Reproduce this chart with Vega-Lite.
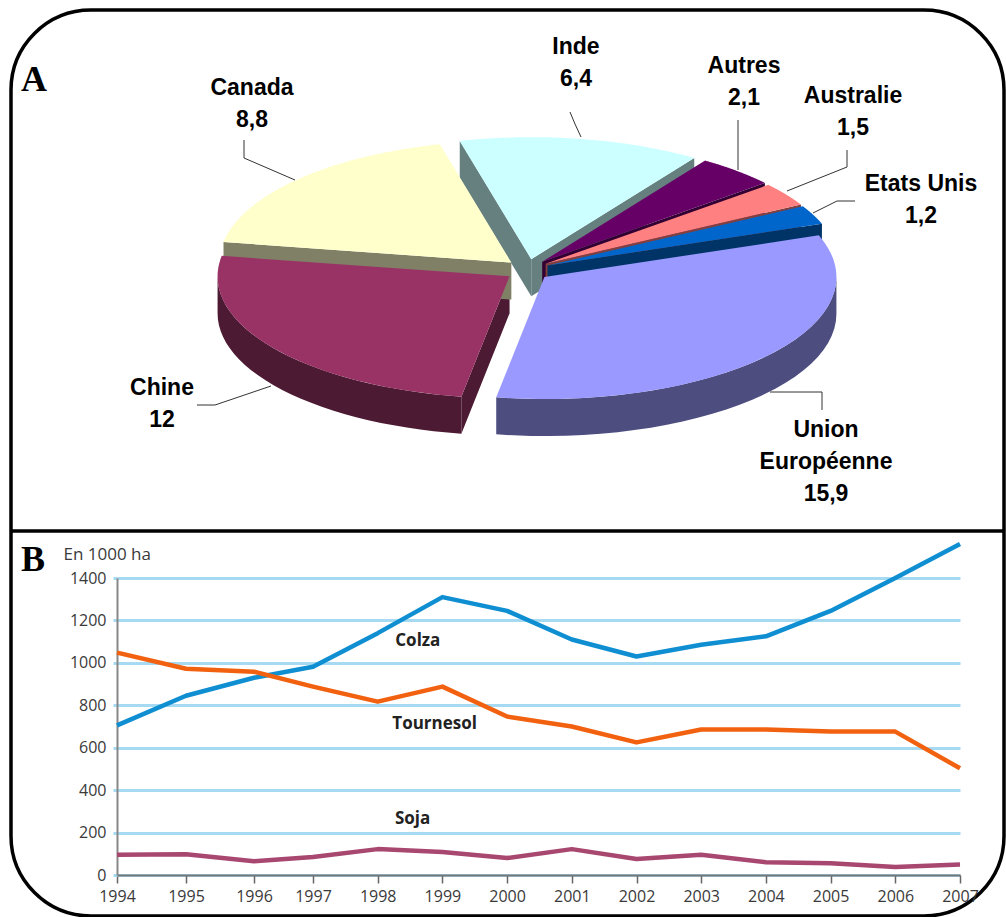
{
  "$schema": "https://vega.github.io/schema/vega-lite/v6.json",
  "autosize": "none",
  "width": 993,
  "height": 906,
  "padding": {"left": 11, "top": 10, "right": 2, "bottom": 1},
  "background": "#ffffff",
  "view": {"stroke": "#000000", "strokeWidth": 3.5, "cornerRadius": 80, "fill": "#ffffff"},
  "datasets": {
    "production": [
      {"name": "Union Européenne", "value": 15.9},
      {"name": "Chine", "value": 12},
      {"name": "Canada", "value": 8.8},
      {"name": "Inde", "value": 6.4},
      {"name": "Autres", "value": 2.1},
      {"name": "Australie", "value": 1.5},
      {"name": "Etats Unis", "value": 1.2}
    ],
    "surfaces": [
      {"crop": "Colza", "year": 1994, "ha": 705},
      {"crop": "Colza", "year": 1995, "ha": 845},
      {"crop": "Colza", "year": 1996, "ha": 930},
      {"crop": "Colza", "year": 1997, "ha": 982},
      {"crop": "Colza", "year": 1998, "ha": 1140},
      {"crop": "Colza", "year": 1999, "ha": 1310},
      {"crop": "Colza", "year": 2000, "ha": 1245},
      {"crop": "Colza", "year": 2001, "ha": 1110},
      {"crop": "Colza", "year": 2002, "ha": 1030},
      {"crop": "Colza", "year": 2003, "ha": 1085},
      {"crop": "Colza", "year": 2004, "ha": 1125},
      {"crop": "Colza", "year": 2005, "ha": 1245},
      {"crop": "Colza", "year": 2006, "ha": 1400},
      {"crop": "Colza", "year": 2007, "ha": 1560},
      {"crop": "Tournesol", "year": 1994, "ha": 1048},
      {"crop": "Tournesol", "year": 1995, "ha": 972},
      {"crop": "Tournesol", "year": 1996, "ha": 958},
      {"crop": "Tournesol", "year": 1997, "ha": 888},
      {"crop": "Tournesol", "year": 1998, "ha": 817},
      {"crop": "Tournesol", "year": 1999, "ha": 888},
      {"crop": "Tournesol", "year": 2000, "ha": 747},
      {"crop": "Tournesol", "year": 2001, "ha": 700},
      {"crop": "Tournesol", "year": 2002, "ha": 625},
      {"crop": "Tournesol", "year": 2003, "ha": 686},
      {"crop": "Tournesol", "year": 2004, "ha": 686},
      {"crop": "Tournesol", "year": 2005, "ha": 676},
      {"crop": "Tournesol", "year": 2006, "ha": 676},
      {"crop": "Tournesol", "year": 2007, "ha": 503},
      {"crop": "Soja", "year": 1994, "ha": 95},
      {"crop": "Soja", "year": 1995, "ha": 98},
      {"crop": "Soja", "year": 1996, "ha": 65},
      {"crop": "Soja", "year": 1997, "ha": 85},
      {"crop": "Soja", "year": 1998, "ha": 122},
      {"crop": "Soja", "year": 1999, "ha": 108},
      {"crop": "Soja", "year": 2000, "ha": 80},
      {"crop": "Soja", "year": 2001, "ha": 122},
      {"crop": "Soja", "year": 2002, "ha": 75},
      {"crop": "Soja", "year": 2003, "ha": 95},
      {"crop": "Soja", "year": 2004, "ha": 60},
      {"crop": "Soja", "year": 2005, "ha": 55},
      {"crop": "Soja", "year": 2006, "ha": 38},
      {"crop": "Soja", "year": 2007, "ha": 50}
    ],
    "cropNames": [
      {"crop": "Colza", "year": 1998.62, "ha": 1104},
      {"crop": "Tournesol", "year": 1998.88, "ha": 714},
      {"crop": "Soja", "year": 1998.54, "ha": 263}
    ]
  },
  "layer": [
    {
      "data": {"values": [{"part": "divider"}]},
      "encoding": {
        "x": {"datum": 11, "type": "quantitative", "scale": {"domain": [11, 1004]}, "axis": null},
        "y": {"datum": 531, "type": "quantitative", "scale": {"domain": [10, 916], "reverse": true}, "axis": null}
      },
      "layer": [
        {
          "mark": {"type": "rule", "stroke": "#000000", "strokeWidth": 3.5},
          "encoding": {"x2": {"datum": 1004}}
        },
        {
          "mark": {"type": "text", "font": "Liberation Serif", "fontWeight": "bold", "fontSize": 36, "align": "left", "baseline": "middle", "color": "#000000", "text": "A"},
          "encoding": {"x": {"datum": 21, "type": "quantitative"}, "y": {"datum": 80, "type": "quantitative"}}
        },
        {
          "mark": {"type": "text", "font": "Liberation Serif", "fontWeight": "bold", "fontSize": 36, "align": "left", "baseline": "middle", "color": "#000000", "text": "B"},
          "encoding": {"x": {"datum": 21, "type": "quantitative"}, "y": {"datum": 560, "type": "quantitative"}}
        }
      ]
    },
    {
      "data": {"name": "production"},
      "transform": [
        {"window": [{"op": "sum", "field": "value", "as": "cum"}], "frame": [null, 0]},
        {"joinaggregate": [{"op": "sum", "field": "value", "as": "total"}]},
        {"calculate": "(70 + 360 * (datum.cum - datum.value) / datum.total) * PI / 180", "as": "a0"},
        {"calculate": "(70 + 360 * datum.cum / datum.total) * PI / 180", "as": "a1"},
        {"calculate": "(datum.a0 + datum.a1) / 2", "as": "mid"},
        {"calculate": "527.5 + 22 * sin(datum.mid)", "as": "ox"},
        {"calculate": "270 - 11 * cos(datum.mid)", "as": "oy"},
        {"calculate": "[0,1,2,3,4,5,6,7,8,9,10,11,12,13,14,15,16,17,18,19,20,21,22,23,24,25,26,27,28,29,30,31,32,33,34,35,36,37,38,39,40,41,42,43,44,45,46,47,48,49,50,51,52,53,54,55,56,57,58,59]", "as": "steps"},
        {"flatten": ["steps"], "as": ["k"]}
      ],
      "encoding": {
        "x": {"field": "px", "type": "quantitative", "scale": {"domain": [11, 1004]}, "axis": null},
        "y": {"field": "py", "type": "quantitative", "scale": {"domain": [10, 916], "reverse": true}, "axis": null},
        "order": {"field": "k", "type": "quantitative"}
      },
      "layer": [
        {
          "description": "Radial side walls of the slices, only those facing the viewer",
          "transform": [
            {"filter": "datum.k < 8"},
            {"calculate": "datum.k < 4 ? 0 : 1", "as": "side"},
            {"calculate": "datum.k % 4", "as": "corner"},
            {"filter": "datum.side == 0 ? sin(datum.a0) < 0 : sin(datum.a1) > 0"},
            {"calculate": "datum.side == 0 ? datum.a0 : datum.a1", "as": "edge"},
            {"calculate": "(datum.corner == 0 || datum.corner == 3) ? datum.ox : datum.ox + 292 * sin(datum.edge)", "as": "px"},
            {"calculate": "((datum.corner == 0 || datum.corner == 3) ? datum.oy : datum.oy - 122 * cos(datum.edge)) + (datum.corner < 2 ? 0 : 37)", "as": "py"}
          ],
          "mark": {"type": "line", "filled": true, "strokeWidth": 0},
          "encoding": {
            "detail": {"field": "side"},
            "color": {"field": "name", "type": "nominal", "legend": null,
              "scale": {"domain": ["Union Européenne", "Chine", "Canada", "Inde", "Autres", "Australie", "Etats Unis"],
                        "range": ["#4d4d80", "#4d1a33", "#808066", "#668080", "#330033", "#804040", "#003366"]}}
          }
        },
        {
          "description": "Outer rim on the front half of the pie",
          "transform": [
            {"filter": "max(datum.a0, PI / 2) < min(datum.a1, 3 * PI / 2)"},
            {"calculate": "max(datum.a0, PI / 2)", "as": "lo"},
            {"calculate": "min(datum.a1, 3 * PI / 2)", "as": "hi"},
            {"calculate": "datum.lo + (datum.k < 30 ? datum.k : 59 - datum.k) / 29 * (datum.hi - datum.lo)", "as": "a"},
            {"calculate": "datum.ox + 292 * sin(datum.a)", "as": "px"},
            {"calculate": "datum.oy - 122 * cos(datum.a) + (datum.k < 30 ? 0 : 37)", "as": "py"}
          ],
          "mark": {"type": "line", "filled": true, "strokeWidth": 0},
          "encoding": {
            "color": {"field": "name", "type": "nominal", "legend": null,
              "scale": {"domain": ["Union Européenne", "Chine", "Canada", "Inde", "Autres", "Australie", "Etats Unis"],
                        "range": ["#4d4d80", "#4d1a33", "#808066", "#668080", "#330033", "#804040", "#003366"]}}
          }
        },
        {
          "description": "Top face of each slice, its angle taken from the value",
          "transform": [
            {"calculate": "datum.a0 + (datum.k - 1) / 58 * (datum.a1 - datum.a0)", "as": "a"},
            {"calculate": "datum.k == 0 ? datum.ox : datum.ox + 292 * sin(datum.a)", "as": "px"},
            {"calculate": "datum.k == 0 ? datum.oy : datum.oy - 122 * cos(datum.a)", "as": "py"}
          ],
          "mark": {"type": "line", "filled": true, "strokeWidth": 0},
          "encoding": {
            "color": {"field": "name", "type": "nominal", "legend": null,
              "scale": {"domain": ["Union Européenne", "Chine", "Canada", "Inde", "Autres", "Australie", "Etats Unis"],
                        "range": ["#9999ff", "#993366", "#ffffcc", "#ccffff", "#660066", "#ff8080", "#0066cc"]}}
          }
        },
        {
          "description": "Leader lines between slices and their labels",
          "transform": [
            {"filter": "datum.k < 3"},
            {"calculate": "{'Inde':[570,575,581],'Autres':[738,738,738],'Australie':[847,847,787],'Etats Unis':[855,837,813],'Union Européenne':[822,822,770],'Chine':[197,215,271],'Canada':[244,244,295]}[datum.name][datum.k]", "as": "px"},
            {"calculate": "{'Inde':[112,124,137],'Autres':[120,145,170],'Australie':[150,167,191],'Etats Unis':[201,201,213],'Union Européenne':[410,392,392],'Chine':[405,405,386],'Canada':[140,158,180]}[datum.name][datum.k]", "as": "py"}
          ],
          "mark": {"type": "line", "stroke": "#333333", "strokeWidth": 1},
          "encoding": {"detail": {"field": "name"}}
        },
        {
          "description": "Slice names with their values; py is the first line of each caption",
          "transform": [
            {"filter": "datum.k == 0"},
            {"calculate": "{'Inde':576,'Autres':744,'Australie':853,'Etats Unis':921,'Union Européenne':826,'Chine':162,'Canada':252}[datum.name]", "as": "px"},
            {"calculate": "{'Inde':47,'Autres':66,'Australie':96,'Etats Unis':184,'Union Européenne':430,'Chine':388,'Canada':88}[datum.name]", "as": "py"},
            {"calculate": "replace(datum.name, 'Union ', 'Union\\n') + '\\n' + replace('' + datum.value, '.', ',')", "as": "caption"}
          ],
          "mark": {"type": "text", "font": "Liberation Sans", "fontWeight": "bold", "fontSize": 23, "lineHeight": 32, "lineBreak": "\n", "align": "center", "baseline": "middle", "color": "#000000"},
          "encoding": {"text": {"field": "caption"}}
        }
      ],
      "resolve": {"scale": {"color": "independent"}}
    },
    {
      "encoding": {
        "x": {
          "field": "year", "type": "quantitative",
          "scale": {"domain": [1994, 1995, 1996, 1997, 2007], "range": [106, 175, 243, 302, 949], "zero": false},
          "axis": {
            "orient": "bottom", "offset": -41, "values": [1994, 1995, 1996, 1997, 1998, 1999, 2000, 2001, 2002, 2003, 2004, 2005, 2006, 2007],
            "format": "d", "title": null, "grid": false,
            "domainColor": "#777777", "domainWidth": 2, "tickColor": "#666666", "tickWidth": 1.5, "tickSize": 8,
            "labelFont": "Open Sans", "labelFontSize": 16, "labelColor": "#3a3a3a", "labelPadding": 5, "labelOverlap": false, "labelBound": false, "labelFlush": false
          }
        },
        "y": {
          "field": "ha", "type": "quantitative",
          "scale": {"domain": [0, 1400], "range": [865, 568]},
          "axis": {
            "orient": "left", "offset": -106, "values": [0, 200, 400, 600, 800, 1000, 1200, 1400],
            "format": "d",
            "title": "En 1000 ha", "titleAngle": 0, "titleX": -54, "titleY": 544, "titleAlign": "left", "titleBaseline": "middle",
            "titleFont": "Open Sans", "titleFontWeight": "normal", "titleFontSize": 17, "titleColor": "#3a3a3a",
            "grid": true, "gridColor": "#a6daf2", "gridWidth": 3,
            "domainColor": "#888888", "domainWidth": 2, "tickColor": "#a6daf2", "tickWidth": 3, "tickSize": 4,
            "labelFont": "Open Sans", "labelFontSize": 16, "labelColor": "#3a3a3a", "labelPadding": 7, "labelOverlap": false, "labelBound": false
          }
        }
      },
      "layer": [
        {
          "data": {"name": "surfaces"},
          "mark": {"type": "line", "strokeWidth": 4.5, "strokeJoin": "round"},
          "encoding": {
            "color": {"field": "crop", "type": "nominal", "legend": null,
              "scale": {"domain": ["Colza", "Tournesol", "Soja"], "range": ["#0f8fd2", "#f2610f", "#a8476f"]}}
          }
        },
        {
          "data": {"name": "cropNames"},
          "mark": {"type": "text", "font": "Open Sans", "fontWeight": "bold", "fontSize": 17, "color": "#222222", "align": "center", "baseline": "middle"},
          "encoding": {"text": {"field": "crop"}}
        }
      ]
    }
  ],
  "resolve": {"scale": {"x": "independent", "y": "independent", "color": "independent"}}
}
